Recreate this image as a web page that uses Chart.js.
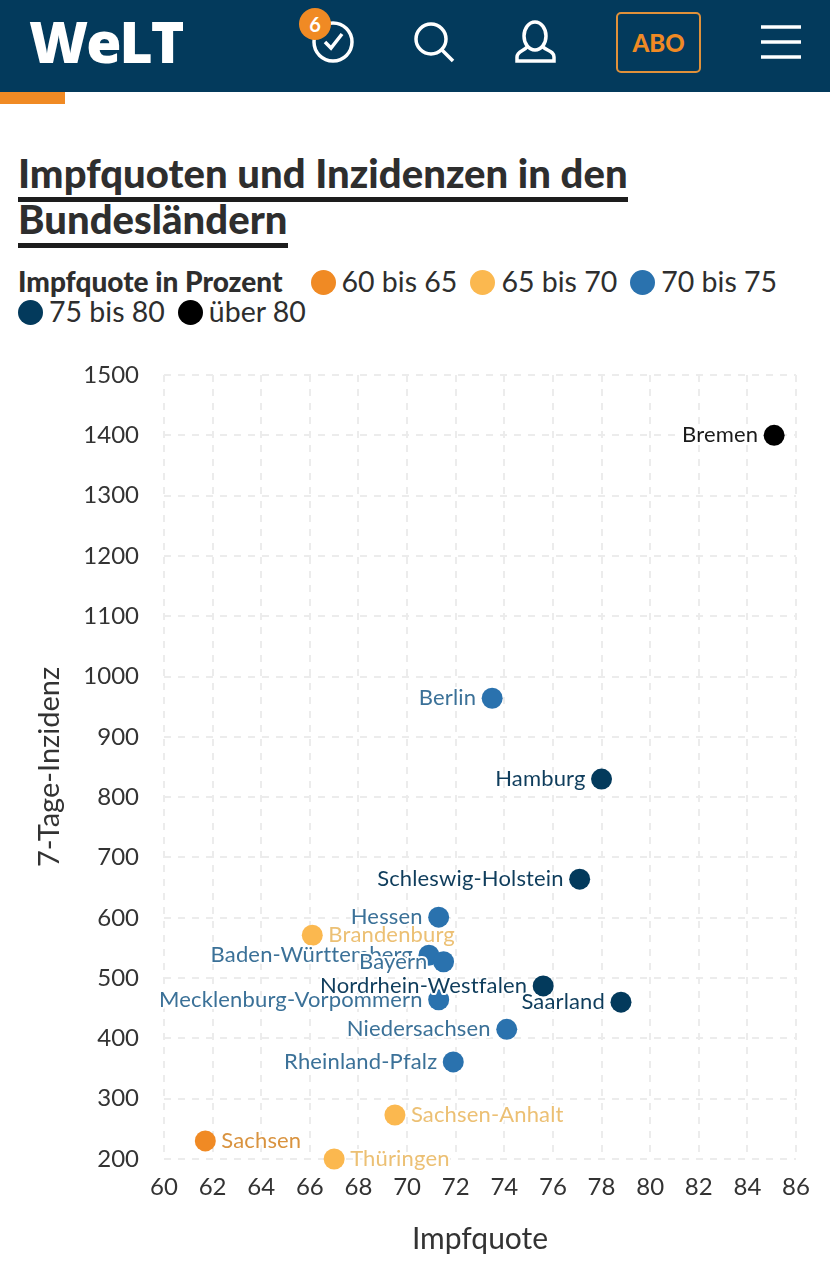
<!DOCTYPE html>
<html lang="de">
<head>
<meta charset="utf-8">
<title>Impfquoten und Inzidenzen in den Bundesländern</title>
<script src="https://cdn.jsdelivr.net/npm/chart.js@4/dist/chart.umd.min.js"></script>
<style>
html, body { margin: 0; padding: 0; background: #fff; }
body { position: relative; width: 830px; height: 1280px; overflow: hidden; font-family: Lato, sans-serif; color: #2e2e2e; }
.topbar { position: absolute; left: 0; top: 0; width: 830px; height: 92px; background: #033a5c; }
.accent { position: absolute; left: 0; top: 92px; width: 65px; height: 12px; background: #f08a24; }
.logo { position: absolute; left: 29px; top: 6px; font: 900 57px/70px "Open Sans", sans-serif; color: #fff; letter-spacing: -2px; }
.icons { position: absolute; left: 0; top: 0; }
.badge { position: absolute; left: 299px; top: 8px; width: 32px; height: 32px; border-radius: 16px; background: #f08a24; color: #fff; font: 700 20px/32px Lato, sans-serif; text-align: center; }
.abo { position: absolute; left: 616px; top: 12px; width: 81px; height: 57px; border: 2px solid #e0913a; border-radius: 5px; color: #f08a24; font: 900 24px/57px Lato, sans-serif; text-align: center; }
h1 { position: absolute; left: 18px; top: 150px; width: 700px; margin: 0; font: 900 40px/46px Lato, sans-serif; letter-spacing: 0.05px; color: #2e2e2e; }
h1 span { border-bottom: 5px solid #1d1d1d; padding-bottom: 0; }
#legend { position: absolute; left: 18px; top: 266px; width: 790px; font-size: 28.5px; line-height: 30px; }
#legend b { font-weight: 900; font-size: 28px; margin-right: 28px; }
#legend .item { display: inline-block; margin-right: 13px; white-space: nowrap; }
#legend i { display: inline-block; width: 25px; height: 25px; border-radius: 50%; margin-right: 6px; vertical-align: -3px; }
#chartWrap { position: absolute; left: 0; top: 340px; width: 830px; height: 940px; }
</style>
</head>
<body>
<div class="topbar"></div>
<div class="accent"></div>
<div class="logo">WeLT</div>
<svg class="icons" width="830" height="92" fill="none" stroke="#fff" stroke-width="3.5">
    <circle cx="333" cy="42" r="19"/>
    <polyline points="325,42 331,48 342,34"/>
    <circle cx="431" cy="39" r="15"/>
    <line x1="442" y1="50" x2="453" y2="61"/>
    <ellipse cx="535" cy="36" rx="11" ry="14"/>
    <path d="M527 47 C524 51 517 51 517 57 V61 H554 V57 C554 51 547 51 543 47"/>
    <line x1="761" y1="27" x2="801" y2="27"/>
    <line x1="761" y1="42" x2="801" y2="42"/>
    <line x1="761" y1="57" x2="801" y2="57"/>
</svg>
<div class="badge">6</div>
<div class="abo">ABO</div>
<h1><span>Impfquoten und Inzidenzen in den</span><br><span>Bundesländern</span></h1>
<div id="legend"></div>
<div id="chartWrap"><canvas id="scatterChart" width="830" height="940"></canvas></div>
<script>
const states = ['Bremen', 'Berlin', 'Hamburg', 'Schleswig-Holstein', 'Hessen', 'Brandenburg', 'Baden-Württemberg', 'Bayern', 'Nordrhein-Westfalen', 'Mecklenburg-Vorpommern', 'Saarland', 'Niedersachsen', 'Rheinland-Pfalz', 'Sachsen-Anhalt', 'Sachsen', 'Thüringen'];
const quotes = [85.1, 73.5, 78.0, 77.1, 71.3, 66.1, 70.9, 71.5, 75.6, 71.3, 78.8, 74.1, 71.9, 69.5, 61.7, 67.0];
const incidences = [1400, 964, 830, 664, 601, 571, 538, 527, 487, 464, 460, 415, 361, 273, 230, 200];

const binLabels = ['60 bis 65', '65 bis 70', '70 bis 75', '75 bis 80', 'über 80'];
const binLimits = [65, 70, 75, 80, 100];
const binColors = ['#f08a24', '#fbb84f', '#2a72ae', '#033a5c', '#000000'];
const labelColors = ['#d9933f', '#ecc074', '#3b7198', '#0f3d5c', '#1a1a1a'];

const fontFamily = 'Lato, sans-serif';

function binOf(quote) {
    return binLimits.findIndex((limit) => quote < limit);
}

document.getElementById('legend').innerHTML = '<b>Impfquote in Prozent</b>' + binLabels
    .map((label, i) => `<span class="item"><i style="background:${binColors[i]}"></i>${label}</span>`)
    .join('');

// names are painted after the points, with a white halo, so they cut into neighbouring marks
const stateLabels = {
    id: 'stateLabels',
    afterDatasetsDraw(chart) {
        const { ctx, scales } = chart;
        ctx.save();
        ctx.font = '22px ' + fontFamily;
        ctx.letterSpacing = '0.15px';
        ctx.textBaseline = 'middle';
        ctx.lineJoin = 'round';
        states.forEach((name, i) => {
            const bin = binOf(quotes[i]);
            const onRight = bin < 2;
            const x = scales.x.getPixelForValue(quotes[i]) + (onRight ? 16 : -16);
            const y = scales.y.getPixelForValue(incidences[i]);
            ctx.textAlign = onRight ? 'left' : 'right';
            ctx.strokeStyle = '#fff';
            ctx.lineWidth = 4;
            ctx.strokeText(name, x, y);
            ctx.fillStyle = labelColors[bin];
            ctx.fillText(name, x, y);
        });
        ctx.restore();
    }
};

const pointColors = quotes.map((q) => binColors[binOf(q)]);

new Chart(document.getElementById('scatterChart'), {
    type: 'scatter',
    data: {
        datasets: [{
            data: quotes.map((q, i) => ({ x: q, y: incidences[i] })),
            backgroundColor: pointColors,
            borderWidth: 0,
            pointRadius: 10.5,
            clip: false
        }]
    },
    options: {
        responsive: false,
        animation: false,
        events: [],
        layout: { padding: { top: 35, right: 34 } },
        plugins: { legend: { display: false }, tooltip: { enabled: false } },
        scales: {
            x: {
                type: 'linear',
                min: 60,
                max: 86,
                afterFit: (scale) => { scale.height = 121; },
                border: { display: false, dash: [7, 7] },
                grid: { color: '#ececec', lineWidth: 2, drawTicks: false },
                ticks: { stepSize: 2, autoSkip: false, maxRotation: 0, color: '#333', padding: 14, font: { size: 24, family: fontFamily } },
                title: { display: true, text: 'Impfquote', color: '#333', padding: { bottom: 23 }, font: { size: 30, family: fontFamily } }
            },
            y: {
                min: 200,
                max: 1500,
                // tick padding would otherwise also push the plot top down
                afterFit: (scale) => {
                    scale.width = 164;
                    scale.paddingTop = 0;
                },
                border: { display: false, dash: [7, 7] },
                grid: { color: '#ececec', lineWidth: 2, drawTicks: false },
                ticks: { stepSize: 100, autoSkip: false, color: '#333', padding: 25, font: { size: 24, family: fontFamily }, callback: (value) => String(value) },
                title: { display: true, text: '7-Tage-Inzidenz', color: '#333', padding: { top: 32 }, font: { size: 29, family: fontFamily } }
            }
        }
    },
    plugins: [stateLabels]
});
</script>
</body>
</html>
